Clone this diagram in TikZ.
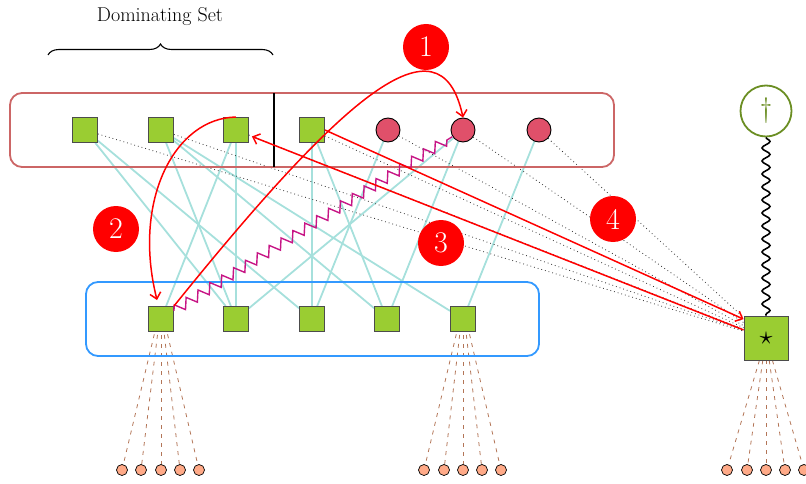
\documentclass[tikz,border=0pt]{standalone}
\usetikzlibrary{arrows.meta,decorations.pathmorphing,decorations.pathreplacing,calc}
\definecolor{sqgreen}{HTML}{9ACD32}
\definecolor{cpink}{HTML}{E0506A}
\definecolor{edgecyan}{HTML}{A6E0DC}
\definecolor{topboxc}{HTML}{CC6666}
\definecolor{botboxc}{HTML}{3399FF}
\definecolor{leafc}{HTML}{FFAA88}
\definecolor{dashbrown}{HTML}{A0522D}
\definecolor{olivec}{HTML}{6B8E23}
\definecolor{purp}{HTML}{C71585}
\pgfdeclarelayer{background}
\pgfsetlayers{background,main}
\begin{document}
\begin{tikzpicture}[x=1pt,y=-1pt,
  sq/.style={draw=black!70, fill=sqgreen, minimum size=25pt, inner sep=0pt, line width=0.9pt},
  cnode/.style={circle, draw=black, fill=cpink, minimum size=24pt, inner sep=0pt, line width=0.9pt},
  leaf/.style={circle, draw=black, fill=leafc, minimum size=11pt, inner sep=0pt, line width=0.7pt},
  cedge/.style={draw=edgecyan, line width=1.8pt},
  dotl/.style={draw=black!80, line width=0.8pt, dash pattern=on 0.8pt off 3pt},
  leafl/.style={draw=dashbrown!80, line width=0.8pt, dash pattern=on 4pt off 5pt},
  redarrow/.style={draw=red, line width=1.5pt, -{Straight Barb[length=6pt,width=11pt]}},
  lab/.style={circle, fill=red, text=white, minimum size=46pt, inner sep=0pt, font=\fontsize{30}{34}\selectfont},
  boxline/.style={line width=1.8pt, rounded corners=12pt},
]
\useasboundingbox (0,0) rectangle (806,484);

% title and brace
\node[font=\fontsize{20}{24}\selectfont] (title) at (160,17) {Dominating Set};
\draw[decorate, decoration={brace, amplitude=11pt}, line width=1.1pt] (48,55) -- (273,55);

% top row
\node[sq] (T1) at (85,130) {};
\node[sq] (T2) at (161,130) {};
\node[sq] (T3) at (236,130) {};
\node[sq] (T4) at (312,130) {};
\node[cnode] (C1) at (388,130) {};
\node[cnode] (C2) at (463,130) {};
\node[cnode] (C3) at (539,130) {};

% bottom row
\node[sq] (B1) at (161,319) {};
\node[sq] (B2) at (236,319) {};
\node[sq] (B3) at (312,319) {};
\node[sq] (B4) at (387,319) {};
\node[sq] (B5) at (463,319) {};

% right side
\node[circle, draw=olivec, line width=1.8pt, fill=white, minimum size=51pt, inner sep=0pt, text=olivec, font=\fontsize{28}{32}\selectfont] (dag) at (766,111) {\dag};
\node[sq, minimum size=44pt] (star) at (766,338) {\scalebox{2.6}{$\star$}};

% leaves
\foreach \i/\x in {1/122,2/141,3/161,4/180,5/199} {
  \node[leaf] (La\i) at (\x,470) {};
}
\foreach \i/\x in {1/424,2/444,3/463,4/482,5/501} {
  \node[leaf] (Lb\i) at (\x,470) {};
}
\foreach \i/\x in {1/727,2/747,3/766,4/785,5/804} {
  \node[leaf] (Lc\i) at (\x,470) {};
}

\begin{pgfonlayer}{background}
  % cyan edges
  \foreach \a/\b in {T1/B2,T1/B3,T2/B2,T2/B4,T2/B5,T3/B1,T3/B2,T4/B3,T4/B4,C1/B3,C2/B2,C2/B4,C3/B5} {
    \draw[cedge] (\a) -- (\b);
  }
  % dotted to star
  \foreach \a in {T1,T2,T3,T4,C1,C2,C3} {
    \draw[dotl] (\a) -- (star);
  }
  % leaf dashed lines
  \foreach \i in {1,...,5} {
    \draw[leafl, shorten <=29pt] (B1.north) -- (La\i);
    \draw[leafl, shorten <=29pt] (B5.north) -- (Lb\i);
    \draw[leafl] (star) -- (Lc\i);
  }
  % boxes
  \draw[boxline, draw=topboxc] (10,93) rectangle (614,167);
  \draw[boxline, draw=botboxc] (86,282) rectangle (539,356);
  \draw[line width=1.8pt] (274,93) -- (274,167);
\end{pgfonlayer}

% snake
\draw[line width=1.6pt, decorate, decoration={snake, segment length=13pt, amplitude=4pt}] (dag) -- (star);

% purple zigzag (3)
\draw[purp, line width=1.4pt, decorate, decoration={zigzag, segment length=14pt, amplitude=5pt}] (B1) -- (C2);

% red arrows
\draw[redarrow] (B1.north east) .. controls (340,100) and (440,10) .. (C2.north);
\draw[redarrow] (T3.north) .. controls (175,118) and (132,200) .. ($(B1.north west)+(9,-6)$);
\draw[redarrow] (T4.east) -- ($(star.north west)!0.08!(star.south west)$);
\draw[redarrow] ($(star.north west)!0.32!(star.south west)$) -- ($(T3.east)!0.5!(T3.south east)+(3,0)$);

% labels
\node[lab] (n1) at (426,47) {1};
\node[lab] (n2) at (116,229) {2};
\node[lab] (n3) at (441,243) {3};
\node[lab] (n4) at (613,219) {4};
\end{tikzpicture}
\end{document}
